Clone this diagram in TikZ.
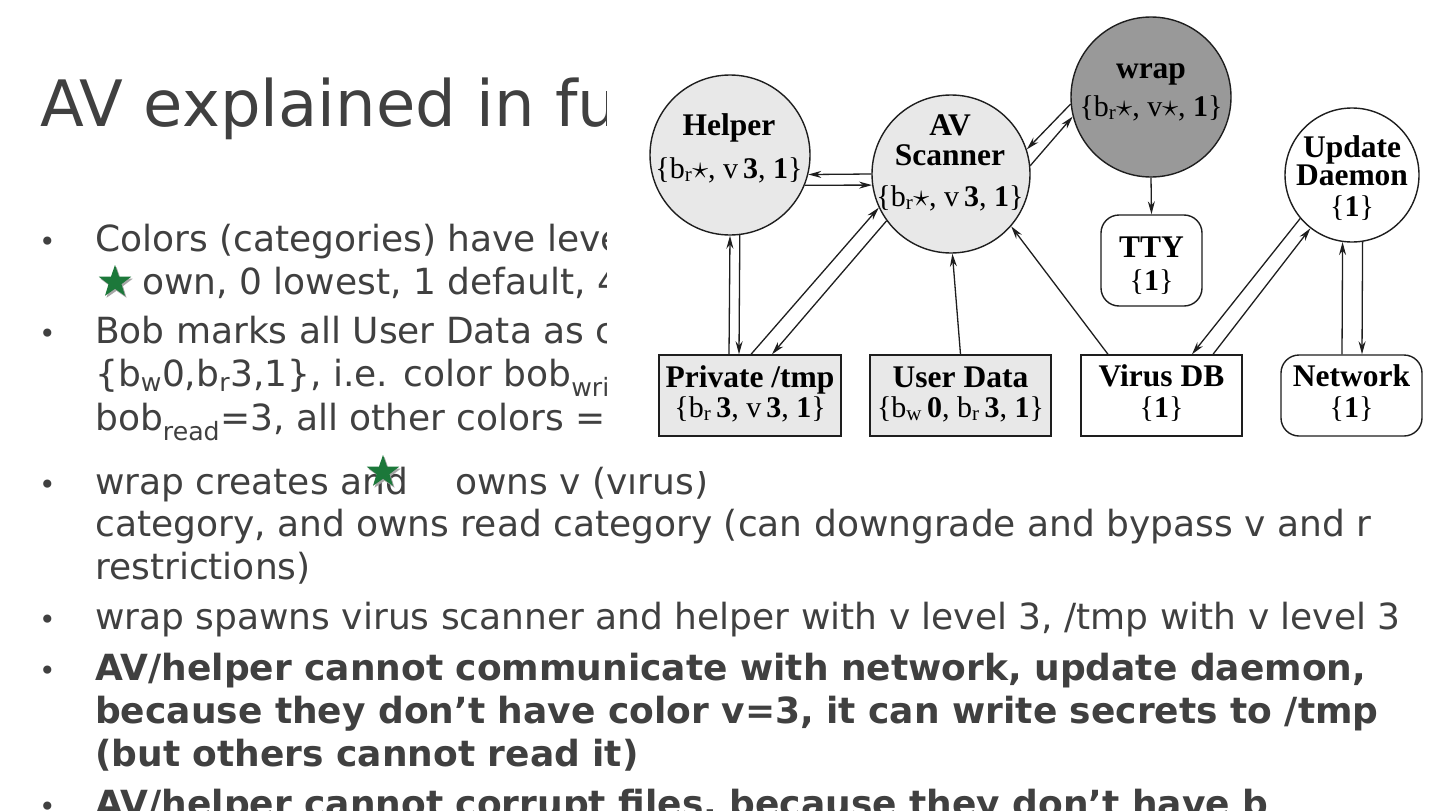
\documentclass[tikz,border=0pt]{standalone}
\usepackage{fontspec}
\setmainfont{DejaVu Sans}
\newfontfamily\tms{Liberation Serif}
\usetikzlibrary{shapes.geometric,arrows.meta}
\definecolor{txt}{RGB}{64,64,64}
\definecolor{dline}{RGB}{30,30,30}
\definecolor{lgfill}{RGB}{232,232,232}
\definecolor{dgfill}{RGB}{153,153,153}
\definecolor{stargreen}{RGB}{28,120,58}
\newcommand{\sbs}[1]{\textsubscript{#1}}
\newcommand{\stt}{\scalebox{1.3}{$\star$}}
\tikzset{
  slide/.style={anchor=base west, inner sep=0pt, text=txt, font=\fontsize{36}{43}\selectfont},
  slidebf/.style={slide, font=\fontsize{36}{43}\selectfont\bfseries},
  bul/.style={anchor=base west, inner sep=0pt, text=txt, font=\fontsize{28}{30}\selectfont},
  gstar/.style={star, star points=5, star point ratio=2.5, minimum size=34pt, inner sep=0pt, fill=stargreen},
  gshadow/.style={star, star points=5, star point ratio=2.5, minimum size=34pt, inner sep=0pt, fill=gray!70},
  dnode/.style={draw=dline, line width=1.4pt, inner sep=0pt},
  circ/.style={dnode, circle},
  sqbox/.style={dnode, rectangle, minimum height=81pt},
  rbox/.style={dnode, rectangle, rounded corners=18pt, minimum height=81pt},
  dtext/.style={anchor=base, inner sep=0pt, text=black, font=\tms\fontsize{31.5}{31.5}\selectfont},
  stext/.style={anchor=base, inner sep=0pt, text=black, font=\tms\fontsize{30}{30}\selectfont},
  arr/.style={-{Stealth[length=13pt,width=7pt]}, line width=1.3pt, draw=dline},
}
\begin{document}
\begin{tikzpicture}[x=1pt,y=-1pt]
\useasboundingbox (0,0) rectangle (1440,811);
\fill[white] (0,0) rectangle (1440,811);
% ---------- slide text ----------
\node[slide, font=\fontsize{64}{70}\selectfont] (title) at (40,126) {AV explained in fu};
\node[bul] (b1) at (39,251) {•};
\node[slide] (t11) at (95,251) {Colors (categories) have leve};
\node[gshadow] (s1s) at (116.5,284) {};
\node[gstar] (s1) at (115,282) {};
\node[slide] (t12) at (142,294) {own, 0 lowest, 1 default, 4};
\node[bul] (b2) at (39,343) {•};
\node[slide] (t21) at (95,343) {Bob marks all User Data as c};
\node[slide] (t22) at (95,386) {\{b\sbs{w}0,b\sbs{r}3,1\}, i.e. color bob\sbs{write}};
\node[slide] (t23) at (95,430) {bob\sbs{read}=3, all other colors =};
\node[bul] (b3) at (39,494) {•};
\node[slide] (t31) at (95,494) {wrap creates and};
\node[slide] (t31b) at (455,494) {owns v (virus)};
\node[slide] (t32) at (95,536) {category, and owns read category (can downgrade and bypass v and r};
\node[slide] (t33) at (95,579) {restrictions)};
\node[bul] (b4) at (39,629) {•};
\node[slide] (t41) at (95,629) {wrap spawns virus scanner and helper with v level 3, /tmp with v level 3};
\node[bul] (b5) at (39,680) {•};
\node[slidebf] (t51) at (95,680) {AV/helper cannot communicate with network, update daemon,};
\node[slidebf] (t52) at (95,723) {because they don’t have color v=3, it can write secrets to /tmp};
\node[slidebf] (t53) at (95,766) {(but others cannot read it)};
\node[bul] (b6) at (39,816) {•};
\node[slidebf] (t61) at (95,816) {AV/helper cannot corrupt files, because they don’t have b};
% ---------- diagram picture background ----------
\fill[white] (607,0) rectangle (1440,471);
\node[gshadow] (s2s) at (384.5,474) {};
\node[gstar] (s2) at (383,472) {};
% ---------- diagram shapes ----------
\node[circ, fill=lgfill, minimum size=160pt] (helper) at (730,155) {};
\node[circ, fill=lgfill, minimum size=158pt] (av) at (951,174) {};
\node[circ, fill=dgfill, minimum size=160pt] (wrap) at (1151,97) {};
\node[circ, fill=white, minimum size=134pt] (upd) at (1352,175) {};
\node[rbox, fill=white, minimum width=101pt, minimum height=91pt] (tty) at (1151.5,260.5) {};
\node[sqbox, fill=lgfill, minimum width=182pt] (priv) at (750,395.5) {};
\node[sqbox, fill=lgfill, minimum width=181pt] (user) at (960.5,395.5) {};
\node[sqbox, fill=white, minimum width=161pt] (vdb) at (1161.5,395.5) {};
\node[rbox, fill=white, minimum width=141pt] (net) at (1351.5,395.5) {};
% ---------- diagram texts ----------
\node[dtext] (helper1) at (729,135) {\textbf{Helper}};
\node[stext] (helper2) at (729,178) {\{b\sbs{r}\stt, v\,\textbf{3}, \textbf{1}\}};
\node[dtext] (av1) at (950,135) {\textbf{AV}};
\node[dtext] (av2) at (950,165) {\textbf{Scanner}};
\node[stext] (av3) at (950,206) {\{b\sbs{r}\stt, v\,\textbf{3}, \textbf{1}\}};
\node[dtext] (wrap1) at (1151,78) {\textbf{wrap}};
\node[stext] (wrap2) at (1151,116) {\{b\sbs{r}\stt, v\stt, \textbf{1}\}};
\node[dtext] (upd1) at (1352,157) {\textbf{Update}};
\node[dtext] (upd2) at (1352,185) {\textbf{Daemon}};
\node[stext] (upd3) at (1352,216) {\{\textbf{1}\}};
\node[dtext] (tty1) at (1151.5,257) {\textbf{TTY}};
\node[stext] (tty2) at (1151.5,290) {\{\textbf{1}\}};
\node[dtext] (priv1) at (750,387) {\textbf{Private /tmp}};
\node[stext] (priv2) at (750,417) {\{b\sbs{r}\,\textbf{3}, v\,\textbf{3}, \textbf{1}\}};
\node[dtext] (user1) at (960.5,387) {\textbf{User Data}};
\node[stext] (user2) at (960.5,417) {\{b\sbs{w}\,\textbf{0}, b\sbs{r}\,\textbf{3}, \textbf{1}\}};
\node[dtext] (vdb1) at (1161.5,386) {\textbf{Virus DB}};
\node[stext] (vdb2) at (1161.5,417) {\{\textbf{1}\}};
\node[dtext] (net1) at (1351.5,386) {\textbf{Network}};
\node[stext] (net2) at (1351.5,417) {\{\textbf{1}\}};
% ---------- connectors ----------
\draw[arr] (av.180.7) -- (helper.-14.5);
\draw[arr] (helper.-22) -- (av.188);
\draw[arr] ([xshift=-21pt]priv.north) -- (helper.-90.7);
\draw[arr] (helper.-83.5) -- ([xshift=-11pt]priv.north);
\draw[arr] ([xshift=1pt]priv.north) -- (av.205.3);
\draw[arr] (av.216) -- ([xshift=22pt]priv.north);
\draw[arr] (user.north) -- (av.-89.3);
\draw[arr] ([xshift=-53.5pt]vdb.north) -- (av.-41);
\draw[arr] (wrap.185.8) -- (av.18.9);
\draw[arr] (av.6.5) -- (wrap.194.7);
\draw[arr] (wrap.south) -- (tty.north);
\draw[arr] (upd.220.7) -- ([xshift=30.5pt]vdb.north);
\draw[arr] ([xshift=51.5pt]vdb.north) -- (upd.232);
\draw[arr] ([xshift=-9.5pt]net.north) -- (upd.-98.6);
\draw[arr] (upd.-81.4) -- ([xshift=10.5pt]net.north);
\end{tikzpicture}
\end{document}
